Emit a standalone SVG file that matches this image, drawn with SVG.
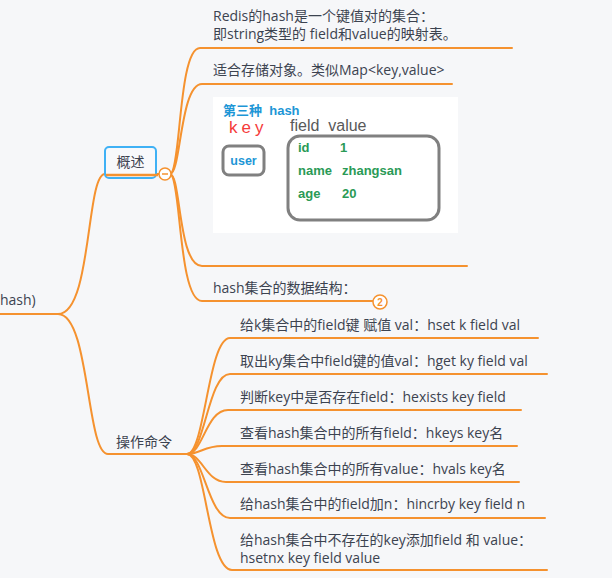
<svg xmlns="http://www.w3.org/2000/svg" width="612" height="578" viewBox="0 0 612 578">
<style>
.t{font-family:"Open Sans","Noto Sans CJK SC",sans-serif;font-size:14px;fill:#3c4350}
.c{fill:none;stroke:#f5922f;stroke-width:2;stroke-linecap:round}
.g{font-family:"Liberation Sans","Noto Sans CJK SC",sans-serif;font-weight:bold;font-size:13px;fill:#2a9a56}
.b{font-family:"Liberation Sans","Noto Sans CJK SC",sans-serif;font-weight:bold;fill:#1d96d6}
</style>
<rect width="612" height="578" fill="#f6f7f9"/>
<g id="connectors">
<path class="c" d="M0,314 H58"/>
<path class="c" d="M58,314 C92,314 86,174 105,174 H159"/>
<path class="c" d="M58,314 C90,314 86,454 108,454 H187"/>
<path class="c" d="M170,174 C181,174 178,48 200,48 H512"/>
<path class="c" d="M170,174 C181,174 180,84 202,84 H452"/>
<path class="c" d="M170,174 C181,174 178,266 202,266 H467"/>
<path class="c" d="M170,174 C181,174 178,301 202,301 H373"/>
<path class="c" d="M187,454 C205,454 208,338 230,338 H538"/>
<path class="c" d="M187,454 C205,454 208,374 230,374 H547"/>
<path class="c" d="M187,454 C203,454 206,410 228,410 H521"/>
<path class="c" d="M187,454 C200,454 204,446 222,446 H517"/>
<path class="c" d="M187,454 C202,454 206,482 226,482 H519"/>
<path class="c" d="M187,454 C204,454 208,518 230,518 H545"/>
<path class="c" d="M187,454 C206,454 208,570 232,570 H547"/>
</g>
<g id="root">
<text class="t" x="0" y="305">hash)</text>
</g>
<g id="overview">
<rect x="105" y="147" width="51" height="31" rx="4" fill="#f8f9fb" stroke="#3fb1f5" stroke-width="2"/>
<text class="t" x="130.5" y="166.5" text-anchor="middle">概述</text>
<line x1="106" y1="175" x2="158" y2="175" stroke="#f5922f" stroke-width="2.5"/>
<circle cx="165" cy="174" r="6" fill="#fff" stroke="#f5922f" stroke-width="1.5"/>
<line x1="162" y1="174" x2="168" y2="174" stroke="#f5922f" stroke-width="1.5"/>
</g>
<g id="n-desc">
<text class="t" x="213" y="20.5">Redis的hash是一个键值对的集合：</text>
<text class="t" x="213" y="38.5">即string类型的 field和value的映射表。</text>
</g>
<g id="n-map">
<text class="t" x="213" y="75">适合存储对象。类似Map&lt;key,value&gt;</text>
</g>
<g id="n-image">
<rect x="213" y="97" width="245" height="136" fill="#ffffff"/>
<text class="b" x="223" y="115" font-size="13" xml:space="preserve">第三种  hash</text>
<text x="229" y="133" font-family="Liberation Sans,sans-serif" font-size="17" fill="#f53a3a" letter-spacing="4">key</text>
<text x="290" y="131" font-family="Liberation Sans,sans-serif" font-size="16" fill="#595959" xml:space="preserve">field  value</text>
<rect x="223" y="146" width="41" height="29" rx="6" fill="none" stroke="#808080" stroke-width="3"/>
<text class="b" x="243.5" y="165" font-size="12.5" text-anchor="middle">user</text>
<rect x="288" y="136" width="151" height="84" rx="12" fill="none" stroke="#808080" stroke-width="3"/>
<text class="g" x="298" y="152">id</text>
<text class="g" x="340" y="152">1</text>
<text class="g" x="298" y="175">name</text>
<text class="g" x="342" y="175">zhangsan</text>
<text class="g" x="298" y="198">age</text>
<text class="g" x="342" y="198">20</text>
</g>
<g id="n-struct">
<text class="t" x="213" y="293">hash集合的数据结构：</text>
<circle cx="380" cy="302" r="7" fill="#fff" stroke="#f5922f" stroke-width="1.5"/>
<text x="380" y="306" font-family="Liberation Sans,sans-serif" font-size="10" font-weight="bold" fill="#f5922f" text-anchor="middle">2</text>
</g>
<g id="ops">
<text class="t" x="116" y="447">操作命令</text>
</g>
<g id="op1"><text class="t" x="240" y="330">给k集合中的field键 赋值 val：hset k field val</text></g>
<g id="op2"><text class="t" x="240" y="366">取出ky集合中field键的值val：hget ky field val</text></g>
<g id="op3"><text class="t" x="240" y="402">判断key中是否存在field：hexists key field</text></g>
<g id="op4"><text class="t" x="240" y="438">查看hash集合中的所有field：hkeys key名</text></g>
<g id="op5"><text class="t" x="240" y="473.5">查看hash集合中的所有value：hvals key名</text></g>
<g id="op6"><text class="t" x="240" y="509">给hash集合中的field加n：hincrby key field n</text></g>
<g id="op7">
<text class="t" x="240" y="545">给hash集合中不存在的key添加field 和 value：</text>
<text class="t" x="240" y="563">hsetnx key field value</text>
</g>
</svg>
